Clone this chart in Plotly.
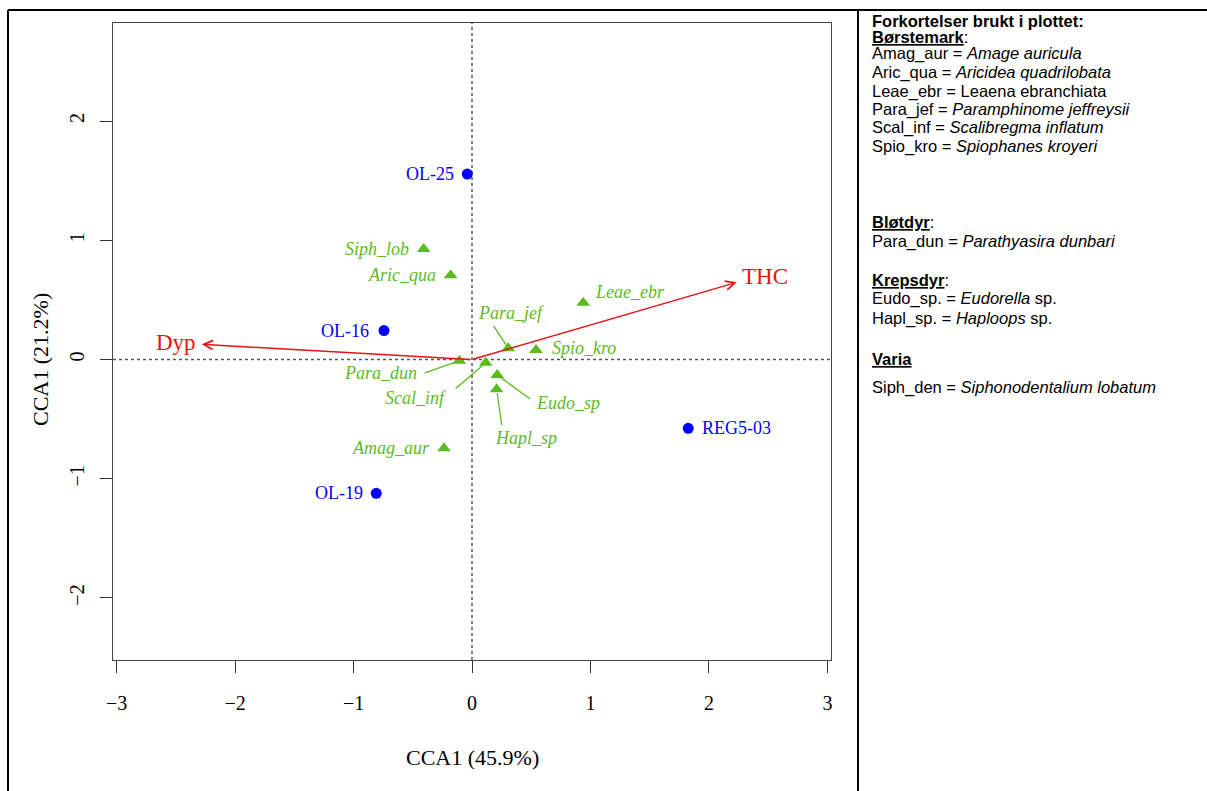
import plotly.graph_objects as go

# ---------------- data ----------------
x_ticks = [-3, -2, -1, 0, 1, 2, 3]
x_ticktext = ["\u22123", "\u22122", "\u22121", "0", "1", "2", "3"]
y_ticks = [-2, -1, 0, 1, 2]
y_ticktext = ["\u22122", "\u22121", "0", "1", "2"]

site_names = ["OL-25", "OL-16", "OL-19", "REG5-03"]
site_x = [-0.04, -0.743, -0.808, 1.825]
site_y = [1.555, 0.243, -1.122, -0.577]

species_names = ["Amag_aur", "Aric_qua", "Eudo_sp", "Hapl_sp", "Leae_ebr",
                 "Para_dun", "Para_jef", "Scal_inf", "Siph_lob", "Spio_kro"]
species_x = [-0.236, -0.180, 0.213, 0.208, 0.939, -0.107, 0.306, 0.116, -0.408, 0.540]
species_y = [-0.745, 0.706, -0.130, -0.250, 0.476, -0.010, 0.094, -0.027, 0.927, 0.080]

env_names = ["THC", "Dyp"]
env_x = [2.234, -2.281]
env_y = [0.647, 0.127]

x_title = "CCA1 (45.9%)"
y_title = "CCA1 (21.2%)"

legend_lines = [
    "<b>Forkortelser brukt i plottet:</b>",
    "<b><u>Børstemark</u></b>:",
    "Amag_aur = <i>Amage auricula</i>",
    "Aric_qua = <i>Aricidea quadrilobata</i>",
    "Leae_ebr = Leaena ebranchiata",
    "Para_jef = <i>Paramphinome jeffreysii</i>",
    "Scal_inf = <i>Scalibregma inflatum</i>",
    "Spio_kro = <i>Spiophanes kroyeri</i>",
    "<b><u>Bløtdyr</u></b>:",
    "Para_dun = <i>Parathyasira dunbari</i>",
    "<b><u>Krepsdyr</u></b>:",
    "Eudo_sp. = <i>Eudorella</i> sp.",
    "Hapl_sp. = <i>Haploops</i> sp.",
    "<b><u>Varia</u></b>",
    "Siph_den = <i>Siphonodentalium lobatum</i>",
]

# ---------------- layout / style ----------------
W, H = 1207, 791
ML, MR, MT, MB = 113, 376, 23, 131
PW = W - ML - MR
PH = H - MT - MB
x_range = [-3.03, 3.03]
y_range = [-2.52, 2.822]

SERIF = "Liberation Serif, Times New Roman, serif"
SANS = "Liberation Sans, Arial, sans-serif"
BLUE = "#0000FF"
GREEN = "#5DBB1F"
RED = "#EE1111"


def px(xp):
    return (xp - ML) / PW


def py(yp):
    return (H - MB - yp) / PH


# label placement (pixel offsets: anchor, dx, dy(screen down))
site_label_pos = {
    "OL-25": ("right", -11, 0),
    "OL-16": ("right", -13, 0),
    "OL-19": ("right", -11, 0),
    "REG5-03": ("left", 12, 0),
}
species_label_pos = {
    "Amag_aur": ("right", -12, 0),
    "Aric_qua": ("right", -13, 0),
    "Siph_lob": ("right", -13, 0),
    "Leae_ebr": ("left", 10, -11),
    "Spio_kro": ("left", 14, -2),
    "Para_jef": ("center", 3, -35),
    "Para_dun": ("center", -79, 12),
    "Scal_inf": ("center", -70, 35),
    "Eudo_sp": ("center", 71, 28),
    "Hapl_sp": ("center", 29, 49),
}
# leader line start offsets (pixels from the point)
leader_pos = {
    "Para_jef": (-15.6, -24),
    "Para_dun": (-36, 12.6),
    "Scal_inf": (-31.7, 27.3),
    "Eudo_sp": (34.4, 25),
    "Hapl_sp": (5.3, 37.4),
}
env_label_pos = {
    "THC": ("left", 3, -6),
    "Dyp": ("right", -4, -2),
}
legend_y_px = [21, 37, 54, 72.5, 91, 109.5, 128, 146.5,
               222, 241, 280, 299, 318, 359, 387]

fig = go.Figure()

fig.add_trace(go.Scatter(
    x=species_x, y=species_y, mode="markers",
    marker=dict(symbol="triangle-up", size=12, color=GREEN, line=dict(width=0)),
    hoverinfo="text", text=species_names, showlegend=False))
fig.add_trace(go.Scatter(
    x=site_x, y=site_y, mode="markers",
    marker=dict(symbol="circle", size=11, color=BLUE, line=dict(width=0)),
    hoverinfo="text", text=site_names, showlegend=False))

shapes = []
# dotted zero lines
shapes.append(dict(type="line", xref="x", yref="paper", x0=0, x1=0, y0=0, y1=1,
                   line=dict(color="#555555", width=1.5, dash="dot"), layer="below"))
shapes.append(dict(type="line", xref="paper", yref="y", x0=0, x1=1, y0=0, y1=0,
                   line=dict(color="#555555", width=1.5, dash="dot"), layer="below"))
# outer frame
shapes.append(dict(type="line", xref="paper", yref="paper", x0=px(8), x1=px(8),
                   y0=py(10), y1=py(800), line=dict(color="black", width=2)))
shapes.append(dict(type="line", xref="paper", yref="paper", x0=px(8), x1=px(1215),
                   y0=py(10), y1=py(10), line=dict(color="black", width=2)))
shapes.append(dict(type="line", xref="paper", yref="paper", x0=px(858), x1=px(858),
                   y0=py(10), y1=py(800), line=dict(color="black", width=2)))

ann = []
# environmental arrows
for n, ex, ey in zip(env_names, env_x, env_y):
    ann.append(dict(x=ex, y=ey, ax=0, ay=0, xref="x", yref="y", axref="x", ayref="y",
                    text="", showarrow=True, arrowhead=5, arrowsize=1.2,
                    arrowwidth=1.5, arrowcolor=RED))
    anc, dx, dy = env_label_pos[n]
    ann.append(dict(x=ex, y=ey, xref="x", yref="y", text=n, showarrow=False,
                    xanchor=anc, yanchor="middle", xshift=dx, yshift=-dy,
                    font=dict(family=SERIF, size=23, color=RED)))

# site labels
for n, sx, sy in zip(site_names, site_x, site_y):
    anc, dx, dy = site_label_pos[n]
    ann.append(dict(x=sx, y=sy, xref="x", yref="y", text=n, showarrow=False,
                    xanchor=anc, yanchor="middle", xshift=dx, yshift=-dy,
                    font=dict(family=SERIF, size=18, color=BLUE)))

# species labels and leaders
for n, sx, sy in zip(species_names, species_x, species_y):
    anc, dx, dy = species_label_pos[n]
    ann.append(dict(x=sx, y=sy, xref="x", yref="y", text="<i>" + n + "</i>",
                    showarrow=False, xanchor=anc, yanchor="middle",
                    xshift=dx, yshift=-dy,
                    font=dict(family=SERIF, size=18, color=GREEN)))
    if n in leader_pos:
        lx, ly = leader_pos[n]
        ann.append(dict(x=sx, y=sy, xref="x", yref="y", ax=lx, ay=ly,
                        text="", showarrow=True, arrowhead=0, arrowwidth=1.3,
                        arrowcolor=GREEN, standoff=4))

# axis titles
ann.append(dict(x=px(472), y=py(757), xref="paper", yref="paper", text=x_title,
                showarrow=False, xanchor="center", yanchor="middle",
                font=dict(family=SERIF, size=22, color="black")))
ann.append(dict(x=px(40), y=py(360), xref="paper", yref="paper", text=y_title,
                showarrow=False, xanchor="center", yanchor="middle", textangle=-90,
                font=dict(family=SERIF, size=22, color="black")))

# abbreviation legend
for yp, t in zip(legend_y_px, legend_lines):
    ann.append(dict(x=px(870), y=py(yp), xref="paper", yref="paper", text=t,
                    showarrow=False, xanchor="left", yanchor="middle",
                    font=dict(family=SANS, size=16.5, color="black")))

fig.update_layout(
    width=W, height=H,
    margin=dict(l=ML, r=MR, t=MT, b=MB, pad=0),
    paper_bgcolor="white", plot_bgcolor="white",
    showlegend=False,
    shapes=shapes, annotations=ann,
    xaxis=dict(range=x_range, tickvals=x_ticks, ticktext=x_ticktext,
               ticks="outside", ticklen=12, tickwidth=1, tickcolor="#333333",
               showline=True, mirror=True, linecolor="#444444", linewidth=1,
               showgrid=False, zeroline=False, ticklabelstandoff=13,
               tickfont=dict(family=SERIF, size=20, color="black")),
    yaxis=dict(range=y_range, tickvals=y_ticks, ticktext=y_ticktext,
               ticks="outside", ticklen=12, tickwidth=1, tickcolor="#333333",
               showline=True, mirror=True, linecolor="#444444", linewidth=1,
               showgrid=False, zeroline=False, tickangle=-90, ticklabelstandoff=8,
               tickfont=dict(family=SERIF, size=20, color="black")),
)

fig.write_html("out.html")
